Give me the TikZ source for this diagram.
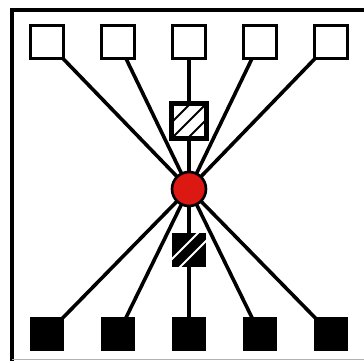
\documentclass[tikz,border=0pt]{standalone}
\usetikzlibrary{backgrounds}
\definecolor{nodered}{HTML}{DC1812}
\begin{document}
\begin{tikzpicture}[x=1pt,y=-1pt,
  openbox/.style={draw=black,line width=3.4pt,fill=white,minimum size=33pt,inner sep=0pt},
  solidbox/.style={draw=black,line width=1pt,fill=black,minimum size=33pt,inner sep=0pt},
  hatchbox/.style={draw=black,line width=3.2pt,fill=white,minimum size=34pt,inner sep=0pt},
  darkhatch/.style={draw=black,line width=1pt,fill=black,minimum size=33pt,inner sep=0pt},
  link/.style={line width=3.6pt,black},
  hub/.style={circle,draw=black,line width=2.6pt,fill=nodered,minimum size=34pt,inner sep=0pt},
  frameline/.style={line width=3.5pt,black}]
\useasboundingbox (0,0) rectangle (364,361);
% frame
\draw[frameline] (12,361) -- (12,10) -- (364,10);
\draw[gray!60,line width=1pt] (12,359.5) -- (364,359.5);
% top boxes
\node[openbox] (t1) at (47,42) {};
\node[openbox] (t2) at (118,42) {};
\node[openbox] (t3) at (189,42) {};
\node[openbox] (t4) at (260,42) {};
\node[openbox] (t5) at (331,42) {};
% bottom boxes
\node[solidbox] (b1) at (47,334) {};
\node[solidbox] (b2) at (118,334) {};
\node[solidbox] (b3) at (189,334) {};
\node[solidbox] (b4) at (260,334) {};
\node[solidbox] (b5) at (331,334) {};
% hatched boxes
\node[hatchbox] (h1) at (189,121) {};
\node[darkhatch] (h2) at (189,250) {};
\begin{scope}
  \clip (h1.south west) rectangle (h1.north east);
  \foreach \c in {-16,0,16}
    \draw[line width=2pt,shift={(h1.center)}] (\c+22,-22) -- (-22,\c+22);
\end{scope}
\draw[line width=3.2pt] (h1.south west) rectangle (h1.north east);
\begin{scope}
  \clip (h2.south west) rectangle (h2.north east);
  \foreach \c in {-8,8}
    \draw[line width=2pt,white,shift={(h2.center)}] (\c+22,-22) -- (-22,\c+22);
\end{scope}
% hub
\node[hub] (c) at (189,189) {};
% connectors
\begin{scope}[on background layer]
  \foreach \n in {t1,t2,t3,t4,t5,b1,b2,b3,b4,b5}
    \draw[link] (c.center) -- (\n.center);
\end{scope}
\end{tikzpicture}
\end{document}
